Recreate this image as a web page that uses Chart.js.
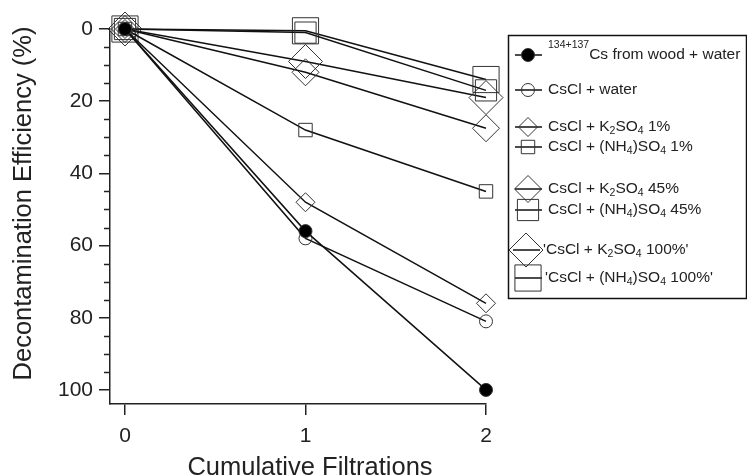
<!DOCTYPE html>
<html>
<head>
<meta charset="utf-8">
<script src="https://cdn.jsdelivr.net/npm/chart.js@4"></script>
<style>
  html, body { margin: 0; background: #fff; }
  #wrap { width: 747px; height: 476px; }
</style>
</head>
<body>
<div id="wrap"><canvas id="chart"></canvas></div>
<script>
const FONT = '"Liberation Sans", Arial, sans-serif';
const INK = '#222';

const filtrations = [0, 1, 2];
const xTicks = [0, 1, 2];
const yTicks = [0, 20, 40, 60, 80, 100];
const yMinorTicks = [5, 10, 15, 25, 30, 35, 45, 50, 55, 65, 70, 75, 85, 90, 95];
const xTitle = 'Cumulative Filtrations';
const yTitle = 'Decontamination Efficiency (%)';

const woodWater = [0, 56, 100];
const csclWater = [0, 58, 81];
const k2so4_1 = [0, 48, 76];
const nh4so4_1 = [0, 28, 45];
const k2so4_45 = [0, 12, 27.5];
const nh4so4_45 = [0, 1, 17];
const k2so4_100 = [0, 9, 19];
const nh4so4_100 = [0, 0.5, 14];

// legend text pieces: [text, 'sub' | 'sup' | undefined]
const names = [
  [['134+137', 'sup'], ['Cs from wood + water']],
  [['CsCl + water']],
  [['CsCl + K'], ['2', 'sub'], ['SO'], ['4', 'sub'], [' 1%']],
  [['CsCl + (NH'], ['4', 'sub'], [')SO'], ['4', 'sub'], [' 1%']],
  [['CsCl + K'], ['2', 'sub'], ['SO'], ['4', 'sub'], [' 45%']],
  [['CsCl + (NH'], ['4', 'sub'], [')SO'], ['4', 'sub'], [' 45%']],
  [["'CsCl + K"], ['2', 'sub'], ['SO'], ['4', 'sub'], [" 100%'"]],
  [["'CsCl + (NH"], ['4', 'sub'], [')SO'], ['4', 'sub'], [" 100%'"]]
];

const series = [
  { data: woodWater,  style: 'circle',  r: 6.5, fill: '#000' },
  { data: csclWater,  style: 'circle',  r: 6.5 },
  { data: k2so4_1,    style: 'rectRot', r: 9.5 },
  { data: nh4so4_1,   style: 'rect',    r: 9.5 },
  { data: k2so4_45,   style: 'rectRot', r: 13.5 },
  { data: nh4so4_45,  style: 'rect',    r: 15 },
  { data: k2so4_100,  style: 'rectRot', r: 17 },
  { data: nh4so4_100, style: 'rect',    r: 18.5 }
];

// legend rows: y centre, symbol centre, line ends, text start
const legendRows = [
  { y: 55,  cx: 528, x0: 515, x1: 542, tx: 548 },
  { y: 90,  cx: 528, x0: 515, x1: 542, tx: 548 },
  { y: 127, cx: 528, x0: 515, x1: 542, tx: 548 },
  { y: 147, cx: 528, x0: 515, x1: 542, tx: 548 },
  { y: 189, cx: 528, x0: 515, x1: 542, tx: 548 },
  { y: 210, cx: 528, x0: 515, x1: 542, tx: 548 },
  { y: 250, cx: 526, x0: 513, x1: 540, tx: 543 },
  { y: 278, cx: 528, x0: 515, x1: 542, tx: 545 }
];

function drawRich(ctx, parts, x, y) {
  parts.forEach(([t, kind]) => {
    ctx.font = (kind ? '10.5px ' : '15.5px ') + FONT;
    const dy = kind === 'sub' ? 4 : kind === 'sup' ? -9.5 : 0;
    ctx.fillText(t, x, y + dy);
    x += ctx.measureText(t).width;
  });
}

const minorTicks = {
  id: 'minorTicks',
  afterDraw(chart) {
    const y = chart.scales.y, ctx = chart.ctx, left = chart.chartArea.left;
    ctx.save();
    ctx.strokeStyle = INK;
    ctx.lineWidth = 1.5;
    yMinorTicks.forEach(v => {
      const py = Math.round(y.getPixelForValue(v)) + 0.5;
      ctx.beginPath();
      ctx.moveTo(left - 6, py);
      ctx.lineTo(left, py);
      ctx.stroke();
    });
    ctx.restore();
  }
};

// axis titles sit a little off the axis centres
const axisTitles = {
  id: 'axisTitles',
  afterDraw(chart) {
    const ctx = chart.ctx, a = chart.chartArea;
    ctx.save();
    ctx.fillStyle = INK;
    ctx.font = '25.5px ' + FONT;
    ctx.textAlign = 'center';
    ctx.textBaseline = 'middle';
    ctx.fillText(xTitle, (a.left + a.right) / 2 + 12, 468);
    ctx.translate(24, (a.top + a.bottom) / 2 - 13);
    ctx.rotate(-Math.PI / 2);
    ctx.fillText(yTitle, 0, 0);
    ctx.restore();
  }
};

const legendBox = {
  id: 'legendBox',
  afterDraw(chart) {
    const ctx = chart.ctx;
    ctx.save();
    ctx.strokeStyle = '#111';
    ctx.lineWidth = 1.5;
    ctx.strokeRect(508.5, 35.5, 238, 263);
    legendRows.forEach((row, i) => {
      const s = series[i];
      ctx.strokeStyle = '#111';
      ctx.lineWidth = 1.5;
      ctx.beginPath();
      ctx.moveTo(row.x0, row.y);
      ctx.lineTo(row.x1, row.y);
      ctx.stroke();
      ctx.strokeStyle = '#333';
      ctx.fillStyle = s.fill || 'rgba(0,0,0,0)';
      ctx.lineWidth = 1;
      Chart.helpers.drawPoint(ctx, { pointStyle: s.style, radius: s.r, borderWidth: 1 }, row.cx, row.y);
      ctx.fillStyle = INK;
      ctx.textBaseline = 'middle';
      ctx.textAlign = 'left';
      drawRich(ctx, names[i], row.tx, row.y);
    });
    ctx.restore();
  }
};

new Chart(document.getElementById('chart'), {
  type: 'line',
  data: {
    labels: filtrations,
    datasets: series.map(s => ({
      data: s.data.map((v, i) => ({ x: filtrations[i], y: v })),
      borderColor: '#111',
      borderWidth: 1.5,
      pointStyle: s.style,
      pointRadius: s.r,
      pointHoverRadius: s.r,
      pointBorderColor: '#333',
      pointBorderWidth: 1,
      pointBackgroundColor: s.fill || 'rgba(0,0,0,0)',
      tension: 0,
      clip: false
    }))
  },
  options: {
    responsive: true,
    maintainAspectRatio: false,
    animation: false,
    events: [],
    layout: { padding: { top: 29, right: 261, left: 0, bottom: 0 } },
    plugins: { legend: { display: false }, tooltip: { enabled: false } },
    scales: {
      x: {
        type: 'linear',
        min: -0.083,
        max: 2,
        afterBuildTicks: s => { s.ticks = xTicks.map(v => ({ value: v })); },
        afterFit: s => { s.height = 72; },
        grid: { drawOnChartArea: false, tickLength: 11, color: INK, lineWidth: 1.5 },
        border: { color: INK, width: 1.5 },
        ticks: { color: INK, font: { family: FONT, size: 21 }, padding: 9, maxRotation: 0 }
      },
      y: {
        type: 'linear',
        reverse: true,
        min: 0,
        max: 103.9,
        afterBuildTicks: s => { s.ticks = yTicks.map(v => ({ value: v })); },
        afterFit: s => { s.width = 110; },
        grid: { drawOnChartArea: false, tickLength: 11, color: INK, lineWidth: 1.5 },
        border: { color: INK, width: 1.5 },
        ticks: { color: INK, font: { family: FONT, size: 21 }, padding: 6 }
      }
    }
  },
  plugins: [minorTicks, axisTitles, legendBox]
});
</script>
</body>
</html>
